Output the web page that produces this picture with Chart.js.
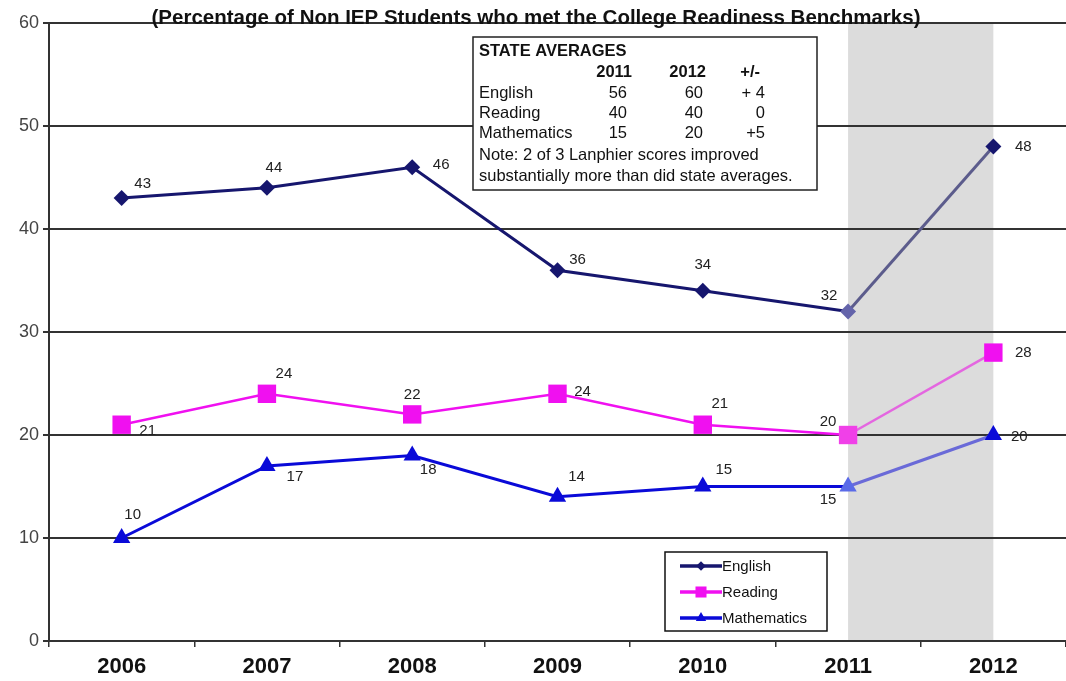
<!DOCTYPE html>
<html>
<head>
<meta charset="utf-8">
<script src="https://cdn.jsdelivr.net/npm/chart.js@4"></script>
<style>
  html, body { margin: 0; padding: 0; background: #fff; overflow: hidden; }
</style>
</head>
<body>
<canvas id="readiness" width="1066" height="681"></canvas>
<script>
const years = ["2006", "2007", "2008", "2009", "2010", "2011", "2012"];
const english = [43, 44, 46, 36, 34, 32, 48];
const reading = [21, 24, 22, 24, 21, 20, 28];
const mathematics = [10, 17, 18, 14, 15, 15, 20];

// state averages table
const stateCols = ["2011", "2012", "+/-"];
const stateSubjects = ["English", "Reading", "Mathematics"];
const state2011 = [56, 40, 15];
const state2012 = [60, 40, 20];
const stateDiff = ["+ 4", "0", "+5"];
const stateNote = ["Note: 2 of 3 Lanphier scores improved", "substantially more than did state averages."];

// where each value label sits relative to its point
const englishLabelPos = [[21, -14], [7, -20], [29, -2], [20, -10], [0, -26], [-19, -16], [30, 0]];
const readingLabelPos = [[26, 6], [17, -20], [0, -20], [25, -2], [17, -21], [-20, -13], [30, 0]];
const mathLabelPos = [[11, -23], [28, 11], [16, 14], [19, -20], [21, -17], [-20, 13], [26, 2]];

const FONT = "Arial, 'Liberation Sans', sans-serif";

// grey band over the last year; grid lines stay on top of it
const shadeBand = {
  id: "shadeBand",
  beforeDraw(chart) {
    const { ctx, chartArea, scales } = chart;
    const x0 = scales.x.getPixelForValue(5);
    const x1 = scales.x.getPixelForValue(6);
    ctx.save();
    ctx.fillStyle = "#dcdcdc";
    ctx.fillRect(x0, chartArea.top, x1 - x0, chartArea.bottom - chartArea.top);
    ctx.restore();
  }
};

const valueLabels = {
  id: "valueLabels",
  afterDatasetsDraw(chart) {
    const { ctx } = chart;
    ctx.save();
    ctx.font = "15px " + FONT;
    ctx.fillStyle = "#222";
    ctx.textAlign = "center";
    ctx.textBaseline = "middle";
    chart.data.datasets.forEach((ds, i) => {
      const meta = chart.getDatasetMeta(i);
      meta.data.forEach((pt, j) => {
        const off = ds.labelPos[j];
        ctx.fillText(String(ds.data[j]), pt.x + off[0], pt.y + off[1]);
      });
    });
    ctx.restore();
  }
};

const titleAndBoxes = {
  id: "titleAndBoxes",
  afterDraw(chart) {
    const { ctx } = chart;
    ctx.save();

    // heading
    ctx.font = "bold 20.5px " + FONT;
    ctx.fillStyle = "#111";
    ctx.textAlign = "center";
    ctx.textBaseline = "alphabetic";
    ctx.fillText("(Percentage of Non IEP Students who met the College Readiness Benchmarks)", 536, 24);

    // state averages box
    const bx = 473, by = 37, bw = 344, bh = 153;
    ctx.fillStyle = "#fff";
    ctx.fillRect(bx, by, bw, bh);
    ctx.strokeStyle = "#222";
    ctx.lineWidth = 1.5;
    ctx.strokeRect(bx, by, bw, bh);
    ctx.fillStyle = "#111";
    ctx.textBaseline = "middle";
    ctx.textAlign = "left";
    ctx.font = "bold 16.5px " + FONT;
    ctx.fillText("STATE AVERAGES", bx + 6, by + 14);
    const colRight = [632, 706, 760];
    ctx.textAlign = "right";
    stateCols.forEach((c, i) => ctx.fillText(c, colRight[i], by + 35));
    ctx.font = "16.5px " + FONT;
    const valRight = [627, 703, 765];
    stateSubjects.forEach((s, i) => {
      const y = by + 56 + i * 20;
      ctx.textAlign = "left";
      ctx.fillText(s, bx + 6, y);
      ctx.textAlign = "right";
      ctx.fillText(String(state2011[i]), valRight[0], y);
      ctx.fillText(String(state2012[i]), valRight[1], y);
      ctx.fillText(stateDiff[i], valRight[2], y);
    });
    ctx.textAlign = "left";
    stateNote.forEach((t, i) => ctx.fillText(t, bx + 6, by + 118 + i * 21));

    // legend
    const lx = 665, ly = 552, lw = 162, lh = 79;
    ctx.fillStyle = "#fff";
    ctx.fillRect(lx, ly, lw, lh);
    ctx.strokeStyle = "#111";
    ctx.lineWidth = 1.5;
    ctx.strokeRect(lx, ly, lw, lh);
    chart.data.datasets.forEach((ds, i) => {
      const y = ly + 14 + i * 26;
      ctx.strokeStyle = ds.borderColor;
      ctx.lineWidth = 3.5;
      ctx.beginPath();
      ctx.moveTo(lx + 15, y);
      ctx.lineTo(lx + 57, y);
      ctx.stroke();
      ctx.fillStyle = ds.borderColor;
      Chart.helpers.drawPoint(ctx, {
        pointStyle: ds.pointStyle,
        radius: ds.pointRadius * 0.6,
        rotation: 0,
        borderWidth: 0
      }, lx + 36, y);
      ctx.fillStyle = "#111";
      ctx.font = "15px " + FONT;
      ctx.textAlign = "left";
      ctx.fillText(ds.label, lx + 57, y + 1);
    });
    ctx.restore();
  }
};

function fadedSegment(base, faded) {
  return { borderColor: c => (c.p0DataIndex === 5 ? faded : base) };
}

function pointColors(base, faded) {
  return years.map((_, i) => (i === 5 ? faded : base));
}

new Chart(document.getElementById("readiness"), {
  type: "line",
  data: {
    labels: years,
    datasets: [
      {
        label: "English",
        data: english,
        labelPos: englishLabelPos,
        borderColor: "#16166e",
        backgroundColor: pointColors("#16166e", "#6464aa"),
        borderWidth: 3,
        pointStyle: "rectRot",
        pointRadius: 8,
        pointBorderWidth: 0,
        segment: fadedSegment("#16166e", "#5c5c8c")
      },
      {
        label: "Reading",
        data: reading,
        labelPos: readingLabelPos,
        borderColor: "#f010f0",
        backgroundColor: pointColors("#f010f0", "#f040e8"),
        borderWidth: 2.5,
        pointStyle: "rect",
        pointRadius: 13,
        pointBorderWidth: 0,
        segment: fadedSegment("#f010f0", "#e466e0")
      },
      {
        label: "Mathematics",
        data: mathematics,
        labelPos: mathLabelPos,
        borderColor: "#0a0ad8",
        backgroundColor: pointColors("#0a0ad8", "#5a6ae8"),
        borderWidth: 3,
        pointStyle: "triangle",
        pointRadius: 10,
        pointBorderWidth: 0,
        segment: fadedSegment("#0a0ad8", "#6a6ad8")
      }
    ]
  },
  options: {
    responsive: false,
    animation: false,
    layout: { autoPadding: false, padding: { top: 23, right: -4, left: 0, bottom: 0 } },
    plugins: {
      legend: { display: false },
      tooltip: { enabled: false },
      title: { display: false }
    },
    scales: {
      x: {
        offset: true,
        grid: {
          offset: true,
          drawOnChartArea: false,
          drawTicks: true,
          tickLength: 6,
          color: "#333",
          lineWidth: 1.5
        },
        border: { display: true, color: "#333", width: 2 },
        ticks: {
          padding: 7,
          color: "#111",
          font: { family: FONT, size: 22, weight: "bold" }
        },
        afterFit(scale) {
          scale.height = 40;
          scale.paddingLeft = 0;
          scale.paddingRight = 0;
        }
      },
      y: {
        min: 0,
        max: 60,
        ticks: {
          stepSize: 10,
          padding: 4,
          color: "#444",
          font: { family: FONT, size: 18 }
        },
        grid: {
          color: "#333",
          lineWidth: 2,
          tickLength: 6
        },
        border: { display: true, color: "#333", width: 2 },
        afterFit(scale) { scale.width = 49; }
      }
    }
  },
  plugins: [shadeBand, valueLabels, titleAndBoxes]
});
</script>
</body>
</html>
